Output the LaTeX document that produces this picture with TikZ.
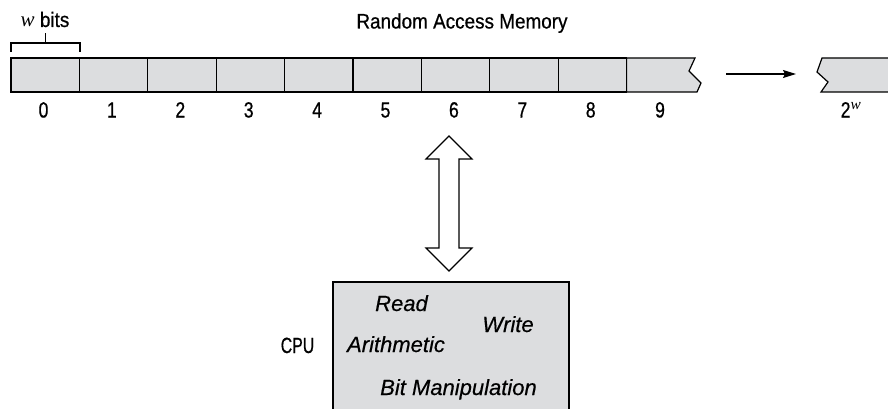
\documentclass[tikz,border=0pt]{standalone}
\usepackage{fontspec}
\usetikzlibrary{arrows.meta}
\setmainfont{Liberation Sans}
\newfontfamily\titlefont[FakeStretch=0.9, FakeBold=0.6]{Liberation Sans}
\newfontfamily\narrowfont[FakeStretch=0.8, FakeBold=0.6]{Liberation Sans}
\newfontfamily\cpufont[FakeStretch=0.72, FakeBold=0.6]{Liberation Sans}
\newfontfamily\opfont[FakeBold=0.4]{Liberation Sans}
\newfontfamily\varfont{Liberation Serif}
\definecolor{cellgray}{HTML}{DCDDDF}
\tikzset{
  cell/.style={draw=black, line width=1.2pt, fill=cellgray},
  lbl/.style={font=\fontsize{22}{24}\selectfont\narrowfont, inner sep=0pt, anchor=base},
  op/.style={font=\fontsize{22}{24}\selectfont\opfont\itshape, inner sep=0pt, anchor=base},
}
\begin{document}
\begin{tikzpicture}[x=1pt, y=-1pt]
\useasboundingbox (0,0) rectangle (888,409);
% memory cells 0..8
\foreach \i in {0,...,8} {
  \draw[cell] ({11+68.4*\i},58) rectangle ({11+68.4*(\i+1)},92);
  \node[lbl] (n\i) at ({43.5+68.4*\i},117.5) {\i};
}
% cell 9 with torn right edge
\draw[cell] (626.6,58) -- (695,58) -- (689,71) -- (701,83) -- (697,92) -- (626.6,92) -- cycle;
\node[lbl] (n9) at (660,117.5) {9};
% last cell, torn left edge, running off the page
\draw[cell] (892,58) -- (822,58) -- (817,72) -- (828,82) -- (821,92) -- (892,92);
\node[lbl] (nlast) at (851,117.5) {2\textsuperscript{\varfont\itshape w}};
% continuation arrow
\coordinate (ca) at (726,74);
\coordinate (cb) at (796,74);
\draw[line width=1.2pt, -{Stealth[length=13pt,width=8pt,inset=2pt]}] (ca) -- (cb);
% word width brace
\draw[line width=1.2pt] (11,52) -- (11,43) -- (80,43) -- (80,52);
\draw[line width=1.2pt] (45.5,43) -- (45.5,33);
\node[lbl, font=\fontsize{21}{23}\selectfont\titlefont] (wbits) at (45,27) {{\varfont\itshape w} bits};
\node[lbl, font=\fontsize{21}{23}\selectfont\titlefont] (ram) at (462,28.5) {Random Access Memory};
% bus between memory and CPU
\draw[line width=1.2pt, fill=white] (449,136) -- (472,159) -- (459,159) -- (459,248) -- (472,248)
  -- (449,271) -- (426,248) -- (439,248) -- (439,159) -- (426,159) -- cycle;
% CPU
\draw[cell] (333,415) -- (333,282) -- (569,282) -- (569,415);
\node[lbl, font=\fontsize{22}{24}\selectfont\cpufont] (cpu) at (297.5,353) {CPU};
\node[op] (rd) at (401.5,311) {Read};
\node[op] (wr) at (508,332) {Write};
\node[op] (ar) at (396,352) {Arithmetic};
\node[op] (bm) at (458.5,395) {Bit Manipulation};
\end{tikzpicture}
\end{document}
